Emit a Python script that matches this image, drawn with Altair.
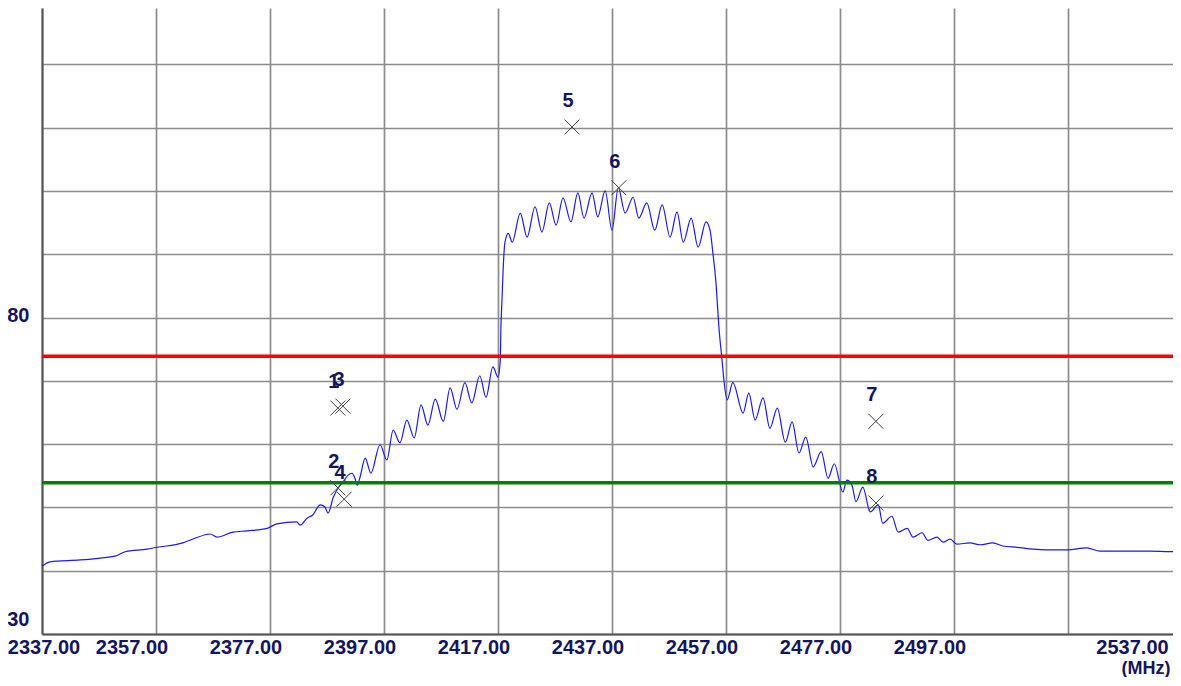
import altair as alt
import pandas as pd

# Spectrum trace (MHz, level)
freq = [2337.0, 2338.4, 2343.7, 2347.2, 2349.8, 2351.6, 2355.4, 2357.2, 2361.7, 2363.5,
        2366.5, 2367.7, 2370.5, 2373.0, 2376.5, 2378.2, 2381.7, 2382.3, 2383.5, 2384.5,
        2385.8, 2386.6, 2387.2, 2388.1, 2389.3, 2389.8, 2390.7, 2391.4, 2391.9, 2392.3,
        2392.8, 2393.7, 2394.7, 2396.3, 2397.5, 2398.6, 2399.8, 2401.0, 2402.3, 2403.5,
        2404.7, 2406.0, 2407.4, 2408.6, 2409.8, 2411.2, 2412.4, 2413.8, 2414.9, 2416.1,
        2417.0, 2417.4, 2417.5, 2417.7, 2417.9, 2418.2, 2418.8, 2419.5, 2420.9, 2422.1,
        2423.5, 2424.7, 2426.0, 2427.2, 2428.4, 2429.8, 2431.0, 2432.1, 2433.5, 2434.5,
        2435.8, 2437.0, 2438.1, 2439.3, 2440.7, 2441.7, 2443.1, 2444.5, 2445.8, 2447.2,
        2448.4, 2449.5, 2450.9, 2452.1, 2453.5, 2454.2, 2454.7, 2455.2, 2455.8, 2456.3,
        2456.6, 2457.2, 2458.2, 2460.0, 2461.0, 2462.1, 2463.5, 2464.7, 2466.0, 2467.4,
        2468.6, 2469.8, 2471.0, 2472.3, 2473.7, 2474.9, 2476.0, 2477.5, 2478.2, 2479.1,
        2479.8, 2481.0, 2482.3, 2483.7, 2484.5, 2486.1, 2487.2, 2488.8, 2489.8, 2491.4,
        2492.4, 2494.0, 2495.1, 2496.3, 2497.5, 2499.8, 2501.6, 2503.8, 2505.6, 2508.1,
        2510.9, 2513.3, 2516.8, 2520.3, 2522.6, 2527.4, 2531.4, 2534.9, 2536.6]
level = [40.7, 41.4, 41.7, 42.0, 42.3, 43.0, 43.4, 43.7, 44.4, 45.0,
         45.8, 45.3, 46.1, 46.3, 46.7, 47.4, 47.7, 47.2, 48.3, 48.8,
         50.4, 50.1, 49.1, 51.6, 53.5, 54.0, 55.1, 55.4, 54.6, 53.5,
         54.8, 57.8, 55.4, 59.9, 57.5, 62.2, 60.2, 63.8, 61.0, 66.2,
         63.0, 67.1, 63.6, 68.9, 65.5, 69.7, 66.5, 70.8, 67.4, 72.2,
         70.6, 73.3, 78.0, 82.8, 87.5, 91.8, 93.3, 91.9, 96.5, 92.7,
         97.5, 93.5, 98.1, 94.6, 98.9, 95.1, 99.7, 95.7, 99.7, 95.9,
         100.0, 93.8, 100.5, 96.5, 99.0, 95.7, 98.1, 93.8, 97.8, 92.7,
         96.7, 91.9, 95.7, 91.1, 95.1, 93.8, 90.2, 85.9, 78.0, 73.3,
         70.4, 67.0, 69.7, 64.9, 68.1, 63.8, 67.3, 62.5, 65.7, 60.3,
         63.5, 58.6, 61.1, 56.4, 58.8, 54.6, 56.9, 52.4, 54.3, 53.5,
         50.9, 53.2, 49.3, 50.4, 47.5, 48.6, 46.1, 46.7, 45.3, 46.0,
         44.8, 45.3, 44.5, 45.0, 44.2, 44.4, 44.1, 44.4, 43.9, 43.7,
         43.4, 43.3, 43.3, 43.6, 43.1, 43.1, 43.1, 43.0, 43.0]

# Markers
marker_id = ["1", "2", "3", "4", "5", "6", "7", "8"]
marker_freq = [2388.9, 2388.9, 2389.8, 2390.0, 2430.0, 2438.2, 2483.3, 2483.3]
marker_level = [65.7, 53.1, 66.0, 51.3, 110.1, 100.5, 63.6, 50.7]

# Limit lines
limit_names = ["upper", "lower"]
limit_levels = [73.9, 53.9]
limit_colors = ["#ff0000", "#008000"]

x_ticks = [2337, 2357, 2377, 2397, 2417, 2437, 2457, 2477, 2497, 2517, 2537]
y_ticks = [30, 40, 50, 60, 70, 80, 90, 100, 110, 120]

FONT = "Liberation Sans, Arial, sans-serif"
NAVY = "#15155c"

trace = pd.DataFrame({"freq": freq, "level": level})
markers = pd.DataFrame({"id": marker_id, "freq": marker_freq, "level": marker_level})
limits = pd.DataFrame({"name": limit_names, "level": limit_levels})

# the analyser screen: the 2537 grid line sits right on the window edge
xscale = alt.Scale(domain=[2337, 2537], range=[0, 1140], nice=False, zero=False)
yscale = alt.Scale(domain=[30, 128.9], nice=False, zero=False)

xaxis = alt.Axis(
    values=x_ticks,
    labelExpr="datum.value == 2517 ? '' : format(datum.value, '.2f')",
    grid=True, gridColor="#8c8c8c", gridWidth=1.7,
    ticks=False, domainColor="#555555", domainWidth=2,
    labelFont=FONT, labelFontSize=20, labelFontWeight="bold", labelColor=NAVY,
    labelPadding=3, labelFlush=False, labelOverlap=False, labelBound=False,
    labelOffset={"condition": [{"test": "datum.value == 2337", "value": 1.5},
                               {"test": "datum.value == 2537", "value": -50}],
                 "value": -24.5},
    title="(MHz)", titleFont=FONT, titleFontSize=18, titleFontWeight="bold",
    titleColor=NAVY, titleAlign="right", titleBaseline="bottom",
    titleX=1128, titleY=43,
)
yaxis = alt.Axis(
    values=y_ticks,
    labelExpr="(datum.value == 30 || datum.value == 80) ? datum.label : ''",
    grid=True, gridColor="#8c8c8c", gridWidth=1.7,
    ticks=False, domainColor="#555555", domainWidth=2,
    labelFont=FONT, labelFontSize=20, labelFontWeight="bold", labelColor=NAVY,
    labelPadding=13, labelOverlap=False,
    labelOffset={"condition": {"test": "datum.value == 30", "value": -15}, "value": -2},
    title=None,
)

line = alt.Chart(trace).mark_line(
    color="#1a1aee", strokeWidth=1.2, interpolate="monotone"
).encode(
    x=alt.X("freq:Q", scale=xscale, axis=xaxis),
    y=alt.Y("level:Q", scale=yscale, axis=yaxis),
)

rules = alt.Chart(limits).mark_rule(strokeWidth=3.5).encode(
    y=alt.Y("level:Q", scale=yscale),
    color=alt.Color("name:N", scale=alt.Scale(domain=limit_names, range=limit_colors), legend=None),
)

points = alt.Chart(markers).mark_point(
    shape="M-1,-1L1,1M-1,1L1,-1", size=225, filled=False,
    color="#404040", strokeWidth=1, opacity=1,
).encode(
    x=alt.X("freq:Q", scale=xscale),
    y=alt.Y("level:Q", scale=yscale),
)

labels = alt.Chart(markers).mark_text(
    dx=-4, dy=-26, font=FONT, fontSize=20, fontWeight="bold", color=NAVY,
    align="center", baseline="middle",
).encode(
    x=alt.X("freq:Q", scale=xscale),
    y=alt.Y("level:Q", scale=yscale),
    text="id:N",
)

chart = alt.layer(line, rules, points, labels).properties(
    width=1131, height=626,
    autosize=alt.AutoSizeParams(type="none"),
    padding={"left": 34, "top": 0, "right": 0, "bottom": 43},
    background="white",
).configure_view(strokeWidth=0)

chart.save("out.html", embed_options={"renderer": "svg", "actions": False})
